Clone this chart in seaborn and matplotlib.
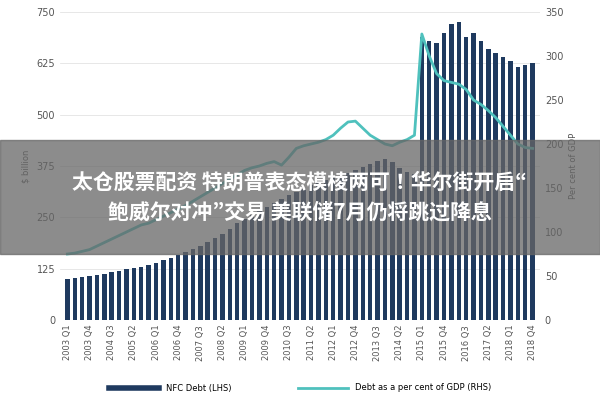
import matplotlib
matplotlib.use("Agg")
import matplotlib.pyplot as plt
from matplotlib import font_manager as fm
import seaborn as sns
import pandas as pd
import numpy as np
from matplotlib.lines import Line2D

quarters = [f"{y} Q{q}" for y in range(2003, 2019) for q in range(1, 5)]
debt = [100,102,105,108,110,113,116,120,123,126,130,135,140,146,152,158,
        165,172,180,190,200,210,222,235,245,255,265,275,285,295,305,312,
        320,328,335,340,345,350,358,365,372,380,388,392,385,370,360,355,
        690,680,675,700,720,725,690,700,680,660,650,640,630,615,620,625]
debt = debt[:48] + debt[48:]
debt = [100,102,105,108,110,113,116,120,123,126,130,135,140,146,152,158,
        165,172,180,190,200,210,222,235,245,255,265,275,285,295,305,312,
        320,328,335,340,345,350,358,365,372,380,388,392,385,370,360,355,
        352,355,360,368,375,385,400,430,
        690,680,700,720,690,700,680,660][:56] + []
debt = [100,102,105,108,110,113,116,120,123,126,130,135,140,146,152,158,
        165,172,180,190,200,210,222,235,245,255,265,275,285,295,305,312,
        320,328,335,340,345,350,358,365,372,380,388,392,385,370,360,355]
debt_tail = [690,680,675,700,720,725,690,700,680,660,650,640,630,615,620,625]
gdp = [75,76,78,80,84,88,92,96,100,104,108,110,114,118,122,126,
       130,135,140,145,150,155,160,165,170,173,175,178,180,176,185,195,
       198,200,202,205,210,218,225,226,218,210,205,200,198,202,205,210,
       325,300,280,272,270,268,262,250,245,238,230,220,210,200,196,195]
debt = debt + debt_tail

cjk = None
for f in fm.fontManager.ttflist:
    if "CJK SC" in f.name or "CJK" in f.name:
        cjk = f.name
        if "SC" in f.name:
            break

labels = quarters[::3]
fig, ax = plt.subplots(figsize=(6, 4), dpi=100)
df = pd.DataFrame({"q": quarters, "debt": debt})
sns.barplot(data=df, x="q", y="debt", color="#1f3a5f", width=0.6, ax=ax, saturation=1)
ax2 = ax.twinx()
sns.lineplot(x=np.arange(64), y=gdp, color="#4fc1bd", lw=2, ax=ax2)
ax.set_ylim(0, 750); ax.set_yticks(range(0, 751, 125))
ax2.set_ylim(0, 350); ax2.set_yticks(range(0, 351, 50))
ax.set_xticks(range(0, 64, 3)); ax.set_xticklabels(labels, rotation=90, fontsize=6, color="#555")
ax.set_xlim(-1, 64)
ax.set_xlabel(""); ax.set_ylabel("$ billion", fontsize=6, color="#555")
ax2.set_ylabel("Per cent of GDP", fontsize=6, color="#555")
for a in (ax, ax2):
    a.tick_params(axis="y", labelsize=7, colors="#555", length=0)
    for s in a.spines.values(): s.set_visible(False)
ax.tick_params(axis="x", length=0)
ax.yaxis.grid(True, color="#ddd", lw=0.5); ax.set_axisbelow(True)
fig.subplots_adjust(left=0.1, right=0.9, top=0.97, bottom=0.2)
h = [Line2D([], [], color="#1f3a5f", lw=4), Line2D([], [], color="#4fc1bd", lw=2)]
fig.legend(h, ["NFC Debt (LHS)", "Debt as a per cent of GDP (RHS)"], loc="lower center",
           ncol=2, frameon=False, fontsize=6, bbox_to_anchor=(0.5, 0.0), handlelength=6, columnspacing=8)
fig.patches.append(plt.Rectangle((0, 0.365), 1, 0.285, transform=fig.transFigure,
                                 color="#666666", alpha=0.75, zorder=10))
fig.text(0.5, 0.508, "太仓股票配资 特朗普表态模棱两可！华尔街开启“\n鲍威尔对冲”交易 美联储7月仍将跳过降息",
         ha="center", va="center", fontsize=15, fontweight="bold", color="white",
         family=[cjk or "Noto Sans CJK SC", "DejaVu Sans"], linespacing=1.5, zorder=11)
fig.savefig("out.png")
